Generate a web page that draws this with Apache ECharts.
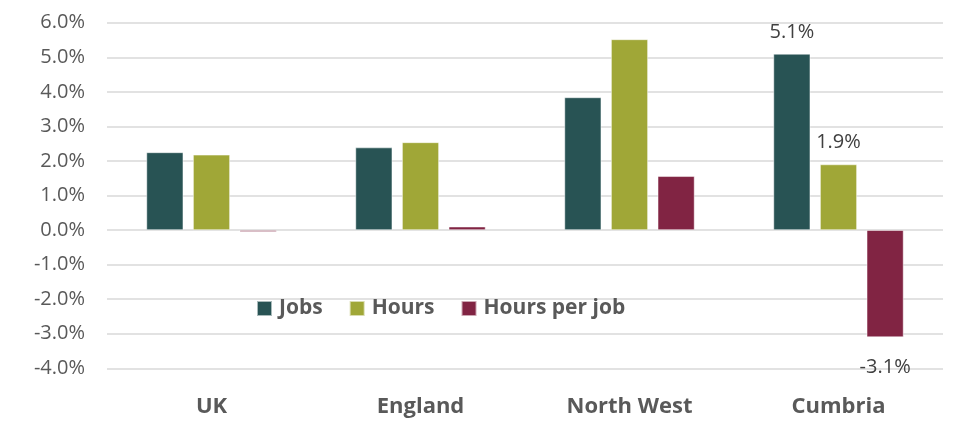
<!DOCTYPE html>
<html>
<head>
<meta charset="utf-8">
<script src="https://cdn.jsdelivr.net/npm/echarts@6/dist/echarts.min.js"></script>
<style>
  html, body { margin: 0; padding: 0; background: #fff; }
  #chart { width: 961px; height: 426px; }
</style>
</head>
<body>
<div id="chart"></div>
<script>
// Annual change by area (%)
const categories = ['UK', 'England', 'North West', 'Cumbria'];
const jobs = [2.25, 2.39, 3.84, 5.1];
const hours = [2.18, 2.54, 5.52, 1.9];
const hoursPerJob = [-0.05, 0.1, 1.56, -3.1];
// Only the Cumbria bars carry value labels
const labelledCategory = 'Cumbria';

const colors = ['#285354', '#a0a737', '#812443'];
const textFont = 'Open Sans';
const fontSize = 20;

function series(name, values, color) {
  return {
    name: name,
    type: 'bar',
    data: values.map((v, i) => ({
      value: v,
      label: {
        show: categories[i] === labelledCategory,
        position: v < 0 ? 'bottom' : 'top',
        distance: v < 0 ? 20 : 12,
        formatter: p => p.value.toFixed(1) + '%',
        color: '#404040',
        fontSize: fontSize,
        fontFamily: textFont
      }
    })),
    itemStyle: { color: color, borderColor: 'rgba(255,255,255,0.6)', borderWidth: 0.8 },
    barWidth: 37,
    barGap: '26%'
  };
}

const chart = echarts.init(document.getElementById('chart'), null, { renderer: 'canvas' });
chart.setOption({
  animation: false,
  grid: { left: 107, right: 18, top: 22.7, bottom: 57.7, containLabel: false },
  legend: {
    left: 256,
    top: 298,
    padding: 0,
    itemWidth: 15,
    itemHeight: 15,
    itemGap: 26,
    icon: 'rect',
    textStyle: { fontFamily: textFont, fontSize: 21, fontWeight: 'bold', color: '#595959', padding: [0, 0, 0, 2] },
    data: ['Jobs', 'Hours', 'Hours per job']
  },
  xAxis: {
    type: 'category',
    data: categories,
    axisLine: { show: false },
    axisTick: { show: false },
    axisLabel: { margin: 27, fontFamily: textFont, fontSize: 22, fontWeight: 'bold', color: '#595959' }
  },
  yAxis: {
    type: 'value',
    min: -4,
    max: 6,
    interval: 1,
    axisLine: { show: false },
    axisTick: { show: false },
    axisLabel: {
      margin: 22,
      fontFamily: textFont,
      fontSize: fontSize,
      color: '#595959',
      formatter: v => v.toFixed(1) + '%'
    },
    splitLine: { lineStyle: { color: '#d9d9d9', width: 1.5 } }
  },
  series: [
    series('Jobs', jobs, colors[0]),
    series('Hours', hours, colors[1]),
    series('Hours per job', hoursPerJob, colors[2])
  ]
});
</script>
</body>
</html>
